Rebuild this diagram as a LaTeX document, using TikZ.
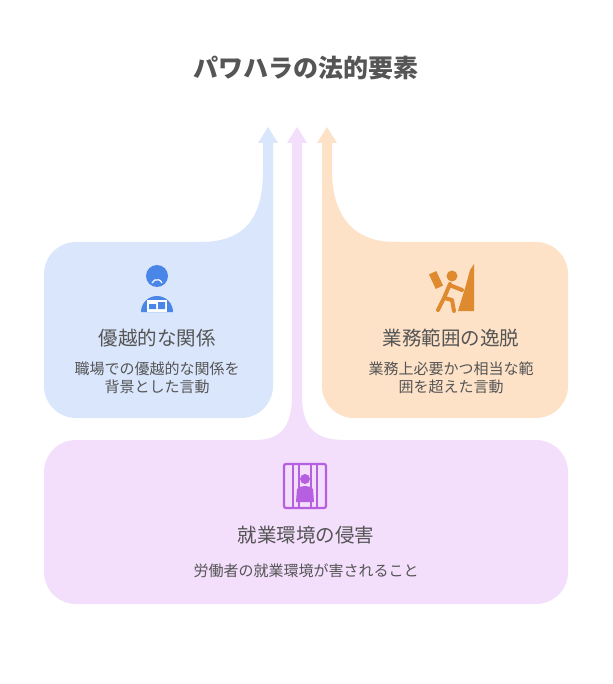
\documentclass[tikz,border=0pt]{standalone}
\usepackage{fontspec}
\setmainfont{Noto Sans CJK JP}
\definecolor{blueBg}{HTML}{DAE6FC}
\definecolor{orangeBg}{HTML}{FDE2C8}
\definecolor{purpleBg}{HTML}{F3DEFC}
\definecolor{blueIc}{HTML}{4A86E8}
\definecolor{orangeIc}{HTML}{E08A30}
\definecolor{purpleIc}{HTML}{B65FE0}
\definecolor{txt}{HTML}{555555}
\tikzset{
  headline/.style={font=\fontsize{19.5}{22}\selectfont, text=txt},
  blurb/.style={font=\fontsize{15}{17.5}\selectfont, text=txt, align=center},
}
\begin{document}
\begin{tikzpicture}[x=1pt,y=-1pt]
  \useasboundingbox (0,0) rectangle (612,684);
  \node (title) at (306,68) {\fontsize{25}{28}\selectfont\bfseries\color{txt}パワハラの法的要素};
  % left
  \fill[blueBg, rounded corners=32] (44,242) rectangle (273,418);
  \fill[blueBg] (200,242) .. controls (250,242) and (263,212) .. (263,170) -- (263,143)
    -- (258,143) -- (268,127) -- (278,143) -- (273,143) -- (273,300) -- (200,300) -- cycle;
  % right
  \fill[orangeBg, rounded corners=32] (322,242) rectangle (568,418);
  \fill[orangeBg] (395,242) .. controls (350,242) and (332,212) .. (332,170) -- (332,143)
    -- (337,143) -- (327,127) -- (317,143) -- (322,143) -- (322,300) -- (395,300) -- cycle;
  % bottom
  \fill[purpleBg, rounded corners=32] (44,440) rectangle (568,604);
  \fill[purpleBg] (292,143) -- (287,143) -- (297,127) -- (307,143) -- (302,143) -- (302,395)
    .. controls (302,428) and (315,440) .. (345,440) -- (345,470) -- (255,470) -- (255,440)
    .. controls (280,440) and (292,428) .. (292,395) -- cycle;
  % icons
  \fill[blueIc] (157,276) circle (11);
  \draw[white, line width=1.2] (152,283) arc (200:340:5.3);
  \fill[blueIc] (141,312) arc (180:360:16) -- cycle;
  \fill[white] (147,300) rectangle (167,312);
  \fill[blueIc] (149,304) rectangle (156,309) (158,302) rectangle (165,309);
  \fill[orangeIc] (452,276) circle (5.5);
  \fill[orangeIc] (474,264) -- (474,311) -- (458,311) -- (466,285) -- (470,270) -- cycle;
  \draw[orangeIc, line width=4, line cap=round, line join=round]
    (450,284) -- (444,298) -- (438,310) (444,298) -- (452,300) -- (454,311)
    (452,286) -- (462,290);
  \fill[orangeIc, rotate around={25:(436,280)}] (432,272) rectangle (440,288);
  \draw[purpleIc, line width=2.2, rounded corners=2] (284,464) rectangle (326,508);
  \foreach \bx in {293,299,311,317}
    \draw[purpleIc, line width=1.8] (\bx,464) -- (\bx,508);
  \fill[purpleIc] (305,479) circle (5);
  \fill[purpleIc] (296,502) -- (297,489) .. controls (300,485) and (310,485) .. (313,489) -- (314,502) -- cycle;
  % labels
  \node[headline] (relTitle) at (157,338) {優越的な関係};
  \node[blurb] (relText) at (157,378) {職場での優越的な関係を\\背景とした言動};
  \node[headline] (scopeTitle) at (451,338) {業務範囲の逸脱};
  \node[blurb] (scopeText) at (451,378) {業務上必要かつ相当な範\\囲を超えた言動};
  \node[headline] (envTitle) at (306,535) {就業環境の侵害};
  \node[blurb] (envText) at (306,571) {労働者の就業環境が害されること};
\end{tikzpicture}
\end{document}
